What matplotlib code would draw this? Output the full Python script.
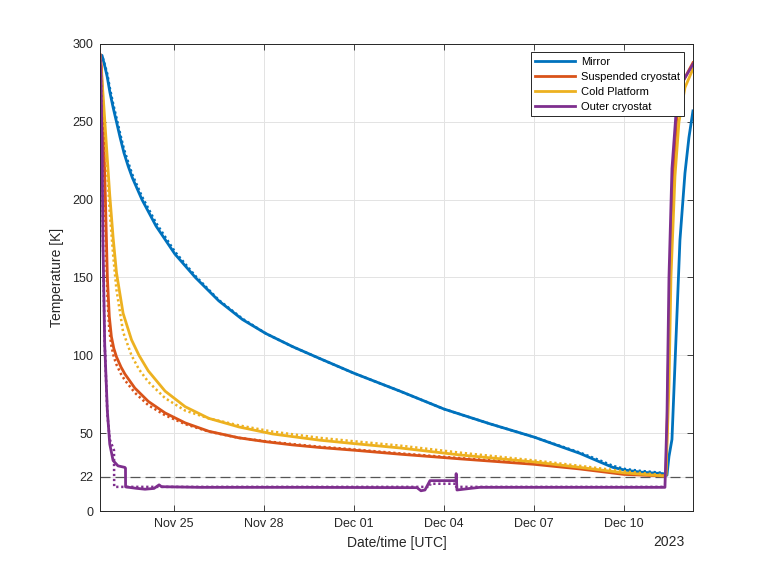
import numpy as np
import matplotlib.pyplot as plt
import matplotlib.dates as mdates

plt.rcParams['font.family'] = ['Liberation Sans', 'DejaVu Sans']

# cooldown start (UTC); all times below are days since this moment
start = np.datetime64('2023-11-22T12:48')

# Mirror
mirror_t = [0, 0.067, 0.157, 0.24, 0.33, 0.44, 0.55, 0.67, 0.80, 0.94, 1.08, 1.40, 1.87,
            2.5, 3.18, 3.96, 4.75, 5.53, 6.43, 7.32, 8.467, 9.333, 10.0, 11.467, 13.0,
            14.467, 16.0, 16.667, 17.1, 17.5, 18.0, 18.767, 18.867, 18.9, 18.967, 19.067,
            19.2, 19.333, 19.5, 19.633, 19.767]
mirror_T = [292, 292.7, 286, 279, 269, 259, 250, 240, 230, 221.5, 214, 200, 183,
            165, 150, 135, 123, 114, 105.5, 98, 88.5, 82, 77, 65.5, 56,
            47.5, 37, 31.5, 28, 26.3, 25, 24, 23.5, 23, 35, 46,
            110, 174, 217, 240, 257]
mirror_sim_t = [0, 0.067, 0.157, 0.24, 0.33, 0.44, 0.55, 0.67, 0.80, 0.94, 1.08, 1.40, 1.87,
                2.5, 3.18, 3.96, 4.75, 5.53, 6.43, 7.32, 8.467, 9.333, 10.0, 11.467, 13.0,
                14.467, 16.0, 16.667, 17.1, 17.5, 18.0, 18.767]
mirror_sim_T = [292, 292.7, 287, 281, 271.5, 261.5, 252.5, 242.5, 232.5, 224, 216, 202, 185,
                166.5, 151, 135.5, 123.5, 114, 105.5, 98, 88.5, 82, 77, 65.5, 56,
                47.5, 37.5, 32.5, 29, 27, 25.8, 24.5]

# Suspended cryostat
susp_t = [0, 0.05, 0.1, 0.18, 0.246, 0.31, 0.38, 0.46, 0.55, 0.7, 0.83, 1.16, 1.61,
          2.17, 2.84, 3.63, 4.63, 5.53, 6.4, 7.32, 8.5, 10.0, 12.0, 14.467, 16.0, 17.467,
          18.8, 18.867, 18.933, 19.0, 19.1, 19.233, 19.433, 19.767]
susp_T = [293, 285, 256, 201, 150, 125, 112, 104.5, 99, 92.5, 88, 79, 70.4,
          63, 56.6, 51.2, 47, 44.5, 42.5, 40.8, 39, 36.5, 33.5, 30, 27, 23.5,
          22.5, 23, 80, 150, 215, 255, 276, 288]
susp_sim_t = [0, 0.05, 0.1, 0.18, 0.246, 0.31, 0.38, 0.46, 0.55, 0.7, 0.83, 1.16, 1.61,
              2.17, 2.84, 3.63, 4.63, 5.53, 6.4, 7.32, 8.5, 10.0, 12.0, 14.467, 16.0,
              17.467, 18.8]
susp_sim_T = [293, 280, 245, 185, 138, 116, 106, 99, 94, 88, 84, 76, 68,
              61.5, 55.8, 51, 47, 44.8, 43, 41.3, 39.5, 37, 34, 30.5, 27.5,
              24, 22.7]

# Cold Platform
cold_t = [0, 0.1, 0.21, 0.325, 0.44, 0.55, 0.77, 1.05, 1.3, 1.61, 2.17, 2.84, 3.63,
          4.63, 5.75, 7.32, 8.467, 10.0, 12.0, 14.467, 16.0, 17.467, 18.8, 18.867,
          18.967, 19.033, 19.167, 19.3, 19.5, 19.767]
cold_T = [293, 268, 236, 203, 175, 153, 127, 110, 100, 90, 77, 67, 59.5,
          54, 49.5, 45.5, 43.3, 40.5, 36, 31.5, 28, 24.5, 22.5, 23,
          80, 150, 215, 250, 272, 284]
cold_sim_t = [0, 0.1, 0.21, 0.325, 0.44, 0.55, 0.77, 1.05, 1.3, 1.61, 2.17, 2.84, 3.63,
              4.63, 5.75, 7.32, 8.467, 10.0, 12.0, 14.467, 16.0, 17.467, 18.8]
cold_sim_T = [293, 262, 226, 192, 164, 142, 115, 100, 91, 83, 72.5, 64.5, 59.5,
              55, 51, 47, 44.8, 42, 37.5, 32.5, 29, 25.5, 23]

# Outer cryostat
outer_t = [0, 0.03, 0.067, 0.1, 0.157, 0.246, 0.325, 0.437, 0.6, 0.83, 0.85, 0.853,
           1.2, 1.5, 1.8, 1.97, 2.05, 3.333, 6.667, 10.567, 10.7, 10.833, 11.0, 11.033,
           11.867, 11.873, 11.9, 12.333, 12.667, 16.667, 18.833, 18.9, 18.967, 19.067,
           19.2, 19.4, 19.767]
outer_T = [293, 280, 235, 171, 107, 64, 43, 32.4, 29, 28, 27.5, 15.5,
           14.6, 14.0, 14.5, 16.8, 15.6, 15.2, 15.2, 15, 13, 13.5, 19.5, 19.5,
           19.5, 24, 13.5, 14.5, 15.2, 15.2, 15.2, 60, 150, 220,
           255, 275, 287]
outer_sim_t = [0, 0.03, 0.067, 0.1, 0.157, 0.246, 0.325, 0.467, 0.473, 0.853, 11.0,
               11.007, 11.867, 11.873, 18.833]
outer_sim_T = [293, 280, 235, 171, 107, 62, 46, 39, 15.5, 15.5, 15.5,
               17.5, 17.5, 15.5, 15.5]

labels = ['Mirror', 'Suspended cryostat', 'Cold Platform', 'Outer cryostat']
colors = ['#0072BD', '#D95319', '#EDB120', '#7E2F8E']


def to_time(days):
    secs = np.round(np.array(days) * 86400).astype(np.int64)
    return start + secs.astype('timedelta64[s]')


fig = plt.figure(figsize=(7.68, 5.75), dpi=100)
ax = fig.add_axes([0.1302, 0.1113, 0.7721, 0.8122])

series = [(mirror_t, mirror_T, mirror_sim_t, mirror_sim_T),
          (susp_t, susp_T, susp_sim_t, susp_sim_T),
          (cold_t, cold_T, cold_sim_t, cold_sim_T),
          (outer_t, outer_T, outer_sim_t, outer_sim_T)]

handles = []
for (t, T, st, sT), lab, c in zip(series, labels, colors):
    h, = ax.plot(to_time(t), T, color=c, lw=2.0, label=lab)
    ax.plot(to_time(st), sT, color=c, lw=1.8, dashes=(0.9, 1.1))
    handles.append(h)

ax.axhline(22, color='#555555', lw=0.9, dashes=(8, 4), zorder=1)

ax.set_xlim(to_time([0])[0], to_time([19.767])[0])
ax.set_ylim(0, 300)
ax.set_yticks([0, 22, 50, 100, 150, 200, 250, 300])
ax.set_xticks([np.datetime64('2023-11-25'), np.datetime64('2023-11-28'),
               np.datetime64('2023-12-01'), np.datetime64('2023-12-04'),
               np.datetime64('2023-12-07'), np.datetime64('2023-12-10')])
ax.xaxis.set_major_formatter(mdates.DateFormatter('%b %d'))

ax.grid(True, color='#e3e3e3', lw=0.7)
ax.set_axisbelow(True)
ax.tick_params(direction='in', length=4, width=0.6, colors='#262626',
               labelsize=9, top=True, right=True, pad=5)
for s in ax.spines.values():
    s.set_color('#262626')
    s.set_linewidth(0.7)

ax.set_xlabel('Date/time [UTC]', fontsize=10, color='#262626', labelpad=4)
ax.set_ylabel('Temperature [K]', fontsize=10, color='#262626', labelpad=6)
fig.text(685 / 768, 1 - 542 / 575, '2023', ha='right', va='center',
         fontsize=10, color='#262626')

leg = ax.legend(handles=handles, loc='upper right', bbox_to_anchor=(0.985, 0.982),
                borderaxespad=0, fontsize=8, handlelength=3.6, fancybox=False,
                framealpha=1, edgecolor='#262626', labelspacing=0.45,
                borderpad=0.4, handletextpad=0.5)
leg.get_frame().set_linewidth(0.7)

fig.savefig('out.png', dpi=100)
